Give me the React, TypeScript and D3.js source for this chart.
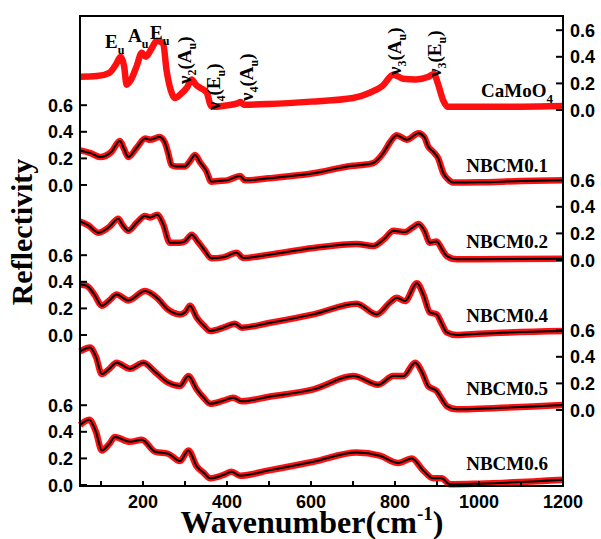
import React from "react";
import * as d3 from "d3";

// ---------- data (wavenumber cm-1, reflectivity) ----------
const caW = [50, 90, 120, 135, 147, 155, 161, 170, 185, 197, 207, 220, 233, 248, 256, 266, 276, 290, 305, 316, 326, 340, 352, 362, 370, 400, 425, 432, 440, 500, 600, 700, 740, 770, 796, 820, 850, 880, 893, 902, 915, 925, 1000, 1100, 1200];
const caR = [0.25, 0.255, 0.28, 0.34, 0.4, 0.33, 0.19, 0.22, 0.33, 0.43, 0.4, 0.46, 0.52, 0.5, 0.3, 0.15, 0.09, 0.12, 0.17, 0.23, 0.19, 0.16, 0.13, 0.03, 0.025, 0.035, 0.05, 0.06, 0.04, 0.045, 0.063, 0.09, 0.13, 0.18, 0.265, 0.235, 0.23, 0.25, 0.27, 0.2, 0.07, 0.025, 0.025, 0.025, 0.03];

const n1W = [50, 75, 98, 125, 145, 155, 165, 185, 205, 217, 239, 252, 260, 268, 280, 300, 312, 324, 336, 350, 363, 380, 400, 431, 443, 500, 606, 700, 720, 748, 772, 790, 804, 828, 856, 870, 879, 891, 903, 915, 927, 939, 1000, 1100, 1200];
const n1R = [0.26, 0.24, 0.21, 0.25, 0.33, 0.27, 0.21, 0.28, 0.35, 0.34, 0.36, 0.32, 0.24, 0.15, 0.14, 0.14, 0.18, 0.225, 0.17, 0.11, 0.025, 0.03, 0.035, 0.068, 0.035, 0.05, 0.088, 0.145, 0.15, 0.165, 0.24, 0.33, 0.375, 0.34, 0.39, 0.36, 0.29, 0.25, 0.2, 0.09, 0.04, 0.018, 0.02, 0.03, 0.035];

const n2W = [50, 70, 94, 120, 141, 152, 165, 185, 205, 217, 234, 248, 264, 288, 300, 316, 330, 345, 363, 391, 423, 439, 500, 606, 709, 748, 775, 796, 824, 840, 856, 870, 883, 899, 912, 923, 947, 1000, 1200];
const n2R = [0.29, 0.26, 0.205, 0.25, 0.31, 0.26, 0.22, 0.28, 0.33, 0.32, 0.34, 0.27, 0.13, 0.13, 0.14, 0.19, 0.14, 0.08, 0.013, 0.02, 0.055, 0.015, 0.04, 0.09, 0.12, 0.105, 0.16, 0.22, 0.21, 0.24, 0.27, 0.22, 0.13, 0.14, 0.08, 0.03, 0.005, 0.005, 0.01];

const n4W = [50, 66, 85, 102, 120, 137, 165, 205, 233, 260, 288, 300, 312, 328, 345, 360, 391, 419, 435, 500, 606, 709, 756, 790, 804, 824, 852, 868, 883, 899, 912, 923, 947, 1000, 1200];
const n4R = [0.38, 0.37, 0.3, 0.22, 0.26, 0.305, 0.26, 0.33, 0.28, 0.19, 0.155, 0.17, 0.22, 0.13, 0.07, 0.03, 0.055, 0.085, 0.055, 0.09, 0.155, 0.235, 0.155, 0.25, 0.28, 0.255, 0.39, 0.3, 0.17, 0.155, 0.08, 0.02, 0.0, 0.01, 0.03];

const n5W = [50, 74, 88, 102, 120, 137, 169, 201, 229, 260, 288, 308, 328, 345, 360, 391, 415, 435, 500, 606, 701, 760, 796, 820, 848, 865, 879, 899, 912, 923, 947, 1000, 1200];
const n5R = [0.44, 0.47, 0.4, 0.27, 0.31, 0.355, 0.31, 0.355, 0.285, 0.205, 0.18, 0.255, 0.155, 0.09, 0.047, 0.07, 0.092, 0.065, 0.1, 0.155, 0.255, 0.19, 0.255, 0.255, 0.355, 0.28, 0.18, 0.143, 0.08, 0.03, 0.005, 0.01, 0.037];

const n6W = [50, 72, 88, 102, 120, 133, 169, 197, 229, 260, 288, 308, 328, 345, 360, 391, 411, 431, 500, 606, 709, 764, 808, 840, 867, 891, 911, 931, 1002, 1200];
const n6R = [0.45, 0.49, 0.4, 0.26, 0.31, 0.36, 0.325, 0.34, 0.25, 0.235, 0.18, 0.26, 0.14, 0.09, 0.05, 0.075, 0.1, 0.07, 0.11, 0.175, 0.245, 0.22, 0.165, 0.2, 0.11, 0.05, 0.05, 0.005, 0.01, 0.04];

const sampleNames = ["CaMoO4", "NBCM0.1", "NBCM0.2", "NBCM0.4", "NBCM0.5", "NBCM0.6"];
const hasFit = [false, true, true, true, true, true];
const xTicksMajor = [200, 400, 600, 800, 1000, 1200];
const xTicksAll = [100, 200, 300, 400, 500, 600, 700, 800, 900, 1000, 1100, 1200];
const yTicks = [0, 0.2, 0.4, 0.6];

const seriesW = [caW, n1W, n2W, n4W, n5W, n6W];
const seriesR = [caR, n1R, n2R, n4R, n5R, n6R];

// ---------- layout ----------
const W = 601, H = 539;
const L = 80, R = 563, T = 16, B = 486;
const firstBase = 110, step = 75, unit = 133;

const serif = "'Times New Roman', 'Liberation Serif', serif";
const sans = "Arial, 'Liberation Sans', sans-serif";

export default function App() {
  const x = d3.scaleLinear().domain([50, 1200]).range([L, R]);
  const yFor = (i: number) =>
    d3.scaleLinear().domain([0, 1]).range([firstBase + step * i, firstBase + step * i - unit]);

  const curves = seriesW.map((ws, i) => {
    const y = yFor(i);
    const pts = ws.map((w, k) => [w, seriesR[i][k]] as [number, number]);
    const line = d3
      .line<[number, number]>()
      .x((d) => x(d[0]))
      .y((d) => y(d[1]))
      .curve(d3.curveMonotoneX);
    return line(pts) || "";
  });

  const labelBaselines = [97, 172, 248, 322, 395, 470];

  const rotLabels = [
    { x: 191, y: 84, n: "2", s: "A" },
    { x: 220, y: 110, n: "4", s: "E" },
    { x: 253, y: 101, n: "4", s: "A" },
    { x: 401, y: 75, n: "3", s: "A" },
    { x: 441, y: 77, n: "3", s: "E" },
  ];

  const flatLabels = [
    { x: 105, y: 48, s: "E" },
    { x: 128, y: 42, s: "A" },
    { x: 150, y: 39, s: "E" },
  ];

  return (
    <svg
      width={W}
      height={H}
      style={{ position: "absolute", left: 0, top: 0, background: "#fff" }}
    >
      <rect x={0} y={0} width={W} height={H} fill="#fff" />
      {/* curves */}
      {curves.map((d, i) => (
        <g key={"c" + i}>
          <path d={d} fill="none" stroke="#ff1010" strokeWidth={6.5} strokeLinejoin="round" />
          {hasFit[i] && <path d={d} fill="none" stroke="#000" strokeWidth={2} />}
        </g>
      ))}

      {/* frame */}
      <rect x={L} y={T} width={R - L} height={B - T} fill="none" stroke="#000" strokeWidth={2} />

      {/* x ticks */}
      {xTicksAll.map((t) => (
        <line key={"xt" + t} x1={x(t)} x2={x(t)} y1={B} y2={B - 5} stroke="#000" strokeWidth={2} />
      ))}
      {xTicksMajor.map((t) => (
        <text
          key={"xl" + t}
          x={x(t)}
          y={508}
          textAnchor="middle"
          fontFamily={sans}
          fontWeight="bold"
          fontSize={18}
        >
          {t}
        </text>
      ))}

      {/* y ticks: right for 0,2,4 ; left for 1,3,5 */}
      {sampleNames.map((_, i) => {
        const y = yFor(i);
        const right = i % 2 === 0;
        return (
          <g key={"ya" + i}>
            {yTicks.map((t) => (
              <g key={t}>
                <line
                  x1={right ? R : L}
                  x2={right ? R - 7 : L + 7}
                  y1={y(t)}
                  y2={y(t)}
                  stroke="#000"
                  strokeWidth={2}
                />
                <text
                  x={right ? 570 : 73}
                  y={y(t) + 6.5}
                  textAnchor={right ? "start" : "end"}
                  fontFamily={sans}
                  fontWeight="bold"
                  fontSize={18}
                >
                  {t.toFixed(1)}
                </text>
              </g>
            ))}
          </g>
        );
      })}

      {/* sample labels */}
      {sampleNames.map((name, i) => (
        <text
          key={"sn" + i}
          x={i === 0 ? 553 : 548}
          y={labelBaselines[i]}
          textAnchor="end"
          fontFamily={serif}
          fontWeight="bold"
          fontSize={19}
        >
          {i === 0 ? (
            <>
              CaMoO
              <tspan dy={6} fontSize={13}>
                4
              </tspan>
            </>
          ) : (
            name
          )}
        </text>
      ))}

      {/* peak labels */}
      {flatLabels.map((l, i) => (
        <text key={"fl" + i} x={l.x} y={l.y} fontFamily={serif} fontWeight="bold" fontSize={19}>
          {l.s}
          <tspan dy={6} fontSize={12}>
            u
          </tspan>
        </text>
      ))}
      {rotLabels.map((l, i) => (
        <g key={"rl" + i} transform={`translate(${l.x},${l.y}) rotate(-90)`}>
          <text x={0} y={0} fontFamily={serif} fontWeight="bold" fontSize={19}>
            ν
            <tspan dy={5} fontSize={12}>
              {l.n}
            </tspan>
            <tspan dy={-5}>({l.s}</tspan>
            <tspan dy={5} fontSize={12}>
              u
            </tspan>
            <tspan dy={-5}>)</tspan>
          </text>
        </g>
      ))}

      {/* axis titles */}
      <text
        transform={`translate(32,232) rotate(-90)`}
        textAnchor="middle"
        fontFamily={serif}
        fontWeight="bold"
        fontSize={30}
      >
        Reflectivity
      </text>
      <text x={312} y={533} textAnchor="middle" fontFamily={serif} fontWeight="bold" fontSize={32}>
        Wavenumber(cm
        <tspan dy={-13} fontSize={19}>
          -1
        </tspan>
        <tspan dy={13}>)</tspan>
      </text>
    </svg>
  );
}
